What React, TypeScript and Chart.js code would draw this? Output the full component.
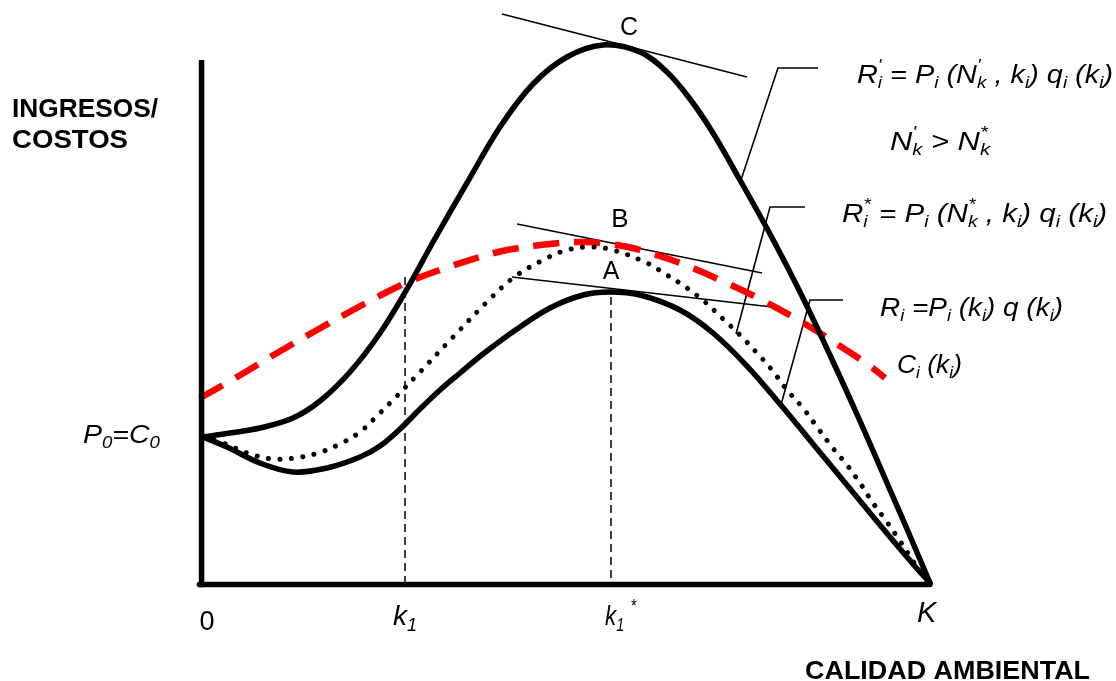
import React, { useEffect, useRef } from "react";
import { Chart, registerables } from "chart.js";

Chart.register(...registerables);

// Units: quality axis 0 = origin, 100 = K ; value axis 0 = horizontal axis, 100 = top of R'
const rPrimeX = [0, 3.71, 7.84, 12.38, 16.09, 20.22, 24.35, 28.06, 31.64, 36.31, 40.85, 45.39, 50.07, 55.02, 60.11, 63.82, 66.99, 70.15, 73.86, 77.99, 82.12, 86.24, 90.37, 94.5, 97.25, 100];
const rPrimeY = [27.14, 27.88, 28.81, 30.67, 33.83, 39.22, 46.47, 54.65, 63.38, 74.35, 84.76, 92.75, 97.77, 100, 98.7, 94.98, 89.96, 83.64, 74.91, 64.87, 54.09, 42.38, 30.11, 17.29, 8.74, 0];

const rX = [0, 3.3, 7.84, 12.38, 17.06, 21.6, 24.35, 27.1, 29.85, 32.6, 35.35, 38.51, 43.19, 47.73, 52.27, 55.98, 60.11, 65.61, 70.15, 74.83, 79.37, 83.91, 88.58, 93.12, 97.66, 100];
const rY = [27.14, 25.28, 22.3, 20.63, 21.38, 23.42, 25.46, 28.62, 32.34, 35.87, 39.03, 42.56, 47.21, 51.11, 53.53, 54.09, 53.53, 50.74, 46.47, 40.33, 33.27, 25.84, 18.22, 10.78, 3.53, 0];

const rStarX = [0, 2.75, 6.05, 9.49, 12.65, 15.82, 18.84, 21.6, 24.07, 26.41, 29.85, 34.39, 39.06, 42.64, 46.77, 50.07, 53.23, 56.4, 61.07, 63.82, 66.57, 69.05, 71.39, 73.86, 76.2, 78.27, 80.33, 82.53, 84.46, 86.52, 88.58, 90.37, 92.16, 94.08, 95.87, 98.21, 99.72];
const rStarY = [27.14, 26.02, 24.16, 23.05, 23.23, 24.16, 25.84, 28.07, 31.23, 34.39, 39.22, 45.72, 52.23, 56.69, 60.04, 61.9, 62.45, 61.9, 59.48, 57.25, 54.83, 52.23, 49.26, 46.1, 42.75, 39.59, 35.87, 32.53, 29.0, 25.28, 21.93, 18.59, 14.87, 11.34, 7.81, 2.97, 0.19];

const costX = [-0.41, 4.68, 10.18, 15.68, 20.63, 25.31, 28.89, 32.6, 37.14, 41.82, 47.73, 52.27, 56.95, 60.11, 65.61, 71.11, 76.61, 82.12, 87.62, 91.75, 93.81];
const costY = [34.39, 38.29, 42.75, 47.03, 50.74, 54.09, 56.32, 58.18, 60.22, 61.9, 63.01, 63.38, 62.83, 61.9, 59.48, 56.32, 52.79, 48.7, 44.05, 40.33, 38.1];

// tangent lines at C, B, A
const tanCX = [41.13, 74.83];
const tanCY = [105.76, 94.05];
const tanBX = [43.19, 76.89];
const tanBY = [66.73, 57.62];
const tanAX = [42.5, 78.27];
const tanAY = [56.88, 51.3];

// reference verticals k1 and k1*
const k1X = [27.79, 27.79];
const k1Y = [56.88, 0];
const k1sX = [56.12, 56.12];
const k1sY = [53.16, 0];

// leader lines from formulas to curves
const leadRPX = [84.6, 79.09, 74.0];
const leadRPY = [95.72, 95.72, 74.9];
const leadRSX = [82.81, 77.99, 73.32];
const leadRSY = [69.89, 69.89, 46.28];
const leadRX = [88.03, 83.49, 79.5];
const leadRY = [52.6, 52.6, 33.09];

// axes
const yAxisX = [-0.2, -0.2];
const yAxisY = [97.2, -0.8];
const xAxisX = [-0.5, 100];
const xAxisY = [-0.3, -0.3];

// labels
const labelTexts = [
  "INGRESOS/",
  "COSTOS",
  "P_{0}=C_{0}",
  "0",
  "k_{1}",
  "k_{1} ^{*}",
  "K",
  "CALIDAD AMBIENTAL",
  "C",
  "B",
  "A",
  "R^{'}_{i} = P_{i} (N^{'}_{k} , k_{i}) q_{i} (k_{i})",
  "N^{'}_{k} > N^{*}_{k}",
  "R^{*}_{i} = P_{i} (N^{*}_{k} , k_{i}) q_{i} (k_{i})",
  "R_{i} =P_{i} (k_{i}) q (k_{i})",
  "C_{i} (k_{i})",
];
const labelX = [-26.27, -26.27, -16.51, 0.55, 26.13, 55.3, 98.21, 82.81, 58.6, 57.36, 56.12, 89.96, 94.5, 87.9, 93.12, 95.46];
const labelY = [86.62, 80.86, 26.02, -8.74, -7.81, -7.81, -7.25, -17.84, 101.86, 66.17, 56.51, 92.94, 80.48, 67.1, 49.63, 39.03];
const labelStyle = ["bold", "bold", "italic", "normal", "italic", "italic", "italic", "bold", "normal", "normal", "normal", "italic", "italic", "italic", "italic", "italic"];
const labelSize = [26, 26, 26, 27, 28, 28, 29, 26, 25, 26, 25, 26, 26, 26, 26, 26];
const labelAlign = ["left", "left", "left", "center", "left", "left", "left", "left", "center", "center", "center", "left", "left", "left", "left", "left"];
const labelWidth = [146, 116, 77, 0, 24, 31, 0, 285, 0, 0, 0, 256, 100, 265, 183, 65];

const FAM = "'Liberation Sans', Arial, Helvetica, sans-serif";

type Seg = { t?: string; script?: boolean; sup?: string; sub?: string };

function parseRich(s: string): Seg[] {
  const segs: Seg[] = [];
  let i = 0;
  let buf = "";
  while (i < s.length) {
    const c = s[i];
    if ((c === "^" || c === "_") && s[i + 1] === "{") {
      const end = s.indexOf("}", i + 2);
      const content = s.slice(i + 2, end);
      if (buf) {
        segs.push({ t: buf });
        buf = "";
      }
      const last = segs[segs.length - 1];
      const key = c === "^" ? "sup" : "sub";
      if (last && last.script && (last as any)[key] === undefined) (last as any)[key] = content;
      else segs.push({ script: true, [key]: content } as Seg);
      i = end + 1;
    } else {
      buf += c;
      i++;
    }
  }
  if (buf) segs.push({ t: buf });
  return segs;
}

function drawRich(ctx: CanvasRenderingContext2D, text: string, x: number, y: number, style: string, size: number, align: string, fitW: number) {
  const segs = parseRich(text);
  const main = `${style} ${size}px ${FAM}`;
  const small = `${style} ${Math.round(size * 0.64)}px ${FAM}`;
  const widths: number[] = [];
  let W = 0;
  for (const s of segs) {
    let w = 0;
    if (s.script) {
      ctx.font = small;
      w = Math.max(s.sup ? ctx.measureText(s.sup).width : 0, s.sub ? ctx.measureText(s.sub).width : 0);
    } else {
      ctx.font = main;
      w = ctx.measureText(s.t || "").width;
    }
    widths.push(w);
    W += w;
  }
  const k = fitW ? fitW / W : 1;
  const sx = align === "center" ? x - (W * k) / 2 : x;
  ctx.save();
  ctx.translate(sx, y);
  ctx.scale(k, 1);
  ctx.fillStyle = "#000";
  ctx.textAlign = "left";
  ctx.textBaseline = "alphabetic";
  let cx = 0;
  segs.forEach((s, i) => {
    if (s.script) {
      ctx.font = small;
      if (s.sup) ctx.fillText(s.sup, cx, -size * 0.45);
      if (s.sub) ctx.fillText(s.sub, cx, size * 0.2);
    } else {
      ctx.font = main;
      ctx.fillText(s.t || "", cx, 0);
    }
    cx += widths[i];
  });
  ctx.restore();
}

const textPlugin = {
  id: "richLabels",
  afterDatasetsDraw(chart: any) {
    const { ctx, scales } = chart;
    const xs = scales.x;
    const ys = scales.y;
    labelTexts.forEach((t, i) => {
      drawRich(ctx, t, xs.getPixelForValue(labelX[i]), ys.getPixelForValue(labelY[i]), labelStyle[i], labelSize[i], labelAlign[i], labelWidth[i]);
    });
  },
};

function series(xs: number[], ys: number[], opts: any) {
  return {
    data: xs.map((x, i) => ({ x, y: ys[i] })),
    showLine: true,
    pointRadius: 0,
    fill: false,
    clip: false,
    borderColor: "#000",
    borderWidth: 1.6,
    tension: 0,
    borderCapStyle: "butt",
    borderJoinStyle: "miter",
    ...opts,
  };
}

export default function App() {
  const ref = useRef<HTMLCanvasElement | null>(null);
  useEffect(() => {
    document.body.style.margin = "0";
    const canvas = ref.current!;
    const curve = { tension: 0.35, borderCapStyle: "round", borderJoinStyle: "round" };
    const datasets = [
      series(yAxisX, yAxisY, { borderWidth: 5.5 }),
      series(xAxisX, xAxisY, { borderWidth: 5.5, borderCapStyle: "round" }),
      series(rPrimeX, rPrimeY, { ...curve, borderWidth: 5.5 }),
      series(rX, rY, { ...curve, borderWidth: 5.5 }),
      series(rStarX, rStarY, { ...curve, borderWidth: 5, borderDash: [0.01, 11.5] }),
      series(costX, costY, { ...curve, borderWidth: 6.5, borderColor: "#ff0000", borderDash: [26, 15], borderCapStyle: "butt" }),
      series(tanCX, tanCY, {}),
      series(tanBX, tanBY, {}),
      series(tanAX, tanAY, {}),
      series(k1X, k1Y, { borderWidth: 1.5, borderDash: [8, 5] }),
      series(k1sX, k1sY, { borderWidth: 1.5, borderDash: [8, 5] }),
      series(leadRPX, leadRPY, {}),
      series(leadRSX, leadRSY, {}),
      series(leadRX, leadRY, {}),
    ];
    const chart = new Chart(canvas, {
      type: "scatter",
      data: { datasets: datasets as any },
      options: {
        responsive: false,
        animation: false,
        events: [],
        layout: { padding: 0 },
        plugins: { legend: { display: false }, tooltip: { enabled: false } },
        scales: {
          x: { type: "linear", min: -27.923, max: 125.585, display: false },
          y: { type: "linear", min: -18.216, max: 108.364, display: false },
        },
      },
      plugins: [textPlugin as any],
    });
    return () => chart.destroy();
  }, []);
  return <canvas ref={ref} width={1116} height={681} style={{ display: "block" }} />;
}
